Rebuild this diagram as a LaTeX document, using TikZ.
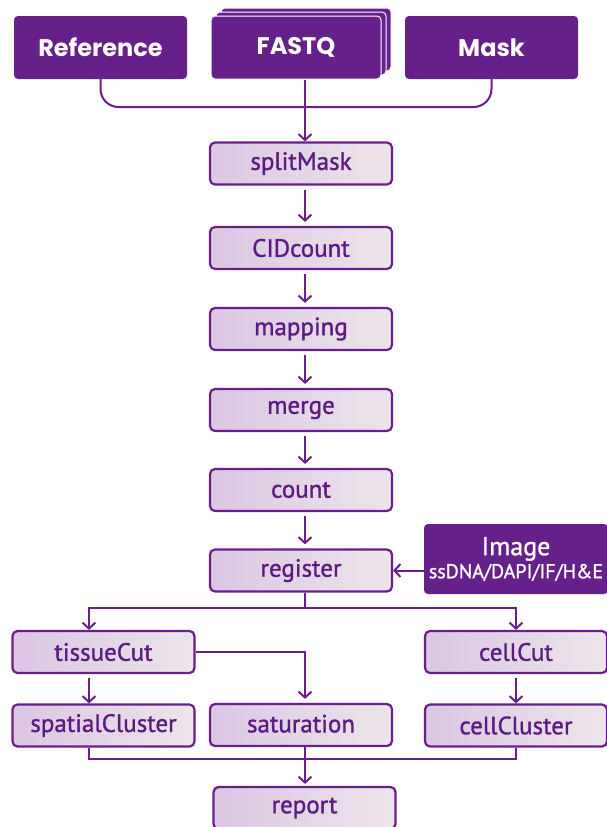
\documentclass[tikz,border=0pt]{standalone}
\usepackage{fontspec}
\setmainfont{PT Sans}
\newfontfamily\boxfont{PT Sans}[BoldFont={PT Sans}, BoldFeatures={FakeBold=1.2}]
\newfontfamily\headfont{Poppins}
\usetikzlibrary{arrows.meta, positioning, calc}
\definecolor{wfpurple}{HTML}{66208A}
\definecolor{wfline}{HTML}{6A1E8C}
\definecolor{wftext}{HTML}{5C1A82}
\definecolor{wfleft}{HTML}{DCC6E4}
\definecolor{wfright}{HTML}{ECE5E9}

\begin{document}
\begin{tikzpicture}[x=1pt, y=-1pt,
    procbox/.style={draw=wfline, line width=2.2pt, rounded corners=5pt, left color=wfleft, right color=wfright,
      minimum width=182pt, minimum height=42pt, inner sep=0pt, text=wftext, font=\boxfont\bfseries\fontsize{25}{28}\selectfont},
    inbox/.style={fill=wfpurple, rounded corners=4pt, minimum width=173pt, minimum height=63pt, inner sep=0pt,
      text=white, font=\headfont\bfseries\fontsize{24}{28}\selectfont},
    line/.style={draw=wfline, line width=2pt},
    arrow/.style={line, -{Straight Barb[length=6pt, width=13pt]}}
  ]
  \useasboundingbox (0,0) rectangle (606,827);

  % Inputs - FASTQ drawn as a stack of files
  \node[inbox] (reference) at (100.5,47.5) {Reference};
  \foreach \k in {2,1} {
    \node[inbox, draw=white, line width=1pt, minimum width=170pt] at ({296+5*\k},{47.5-4*\k}) {};
  }
  \node[inbox, draw=white, line width=1pt, minimum width=170pt] (fastq) at (296,47.5) {FASTQ};
  \node[inbox] (mask) at (491.5,47.5) {Mask};

  % Main column
  \node[procbox] (splitmask) at (301,163.5) {splitMask};
  \node[procbox] (cidcount) at (301,248) {CIDcount};
  \node[procbox] (mapping) at (301,329) {mapping};
  \node[procbox] (merge) at (301,410) {merge};
  \node[procbox] (count) at (301,490) {count};
  \node[procbox] (register) at (301,570.5) {register};

  % Image input
  \node[inbox, minimum width=184pt, minimum height=70pt, font=\boxfont\bfseries\fontsize{26}{28}\selectfont, align=center] (image) at (516,559)
    {Image\\[-5pt]{\fontsize{20}{22}\selectfont ssDNA/DAPI/IF/H\&E}};

  % Branches after register
  \node[procbox] (tissuecut) at (103.5,652) {tissueCut};
  \node[procbox] (cellcut) at (516,652) {cellCut};
  \node[procbox] (spatialcluster) at (103.5,725.5) {spatialCluster};
  \node[procbox] (saturation) at (301,725) {\raisebox{3pt}{saturation}\hspace{8pt}};
  \node[procbox] (cellcluster) at (516,725.5) {cellCluster};
  \node[procbox] (report) at (304.5,808) {report};

  % Helper points for the buses
  \coordinate (join) at (305,107);
  \coordinate (busL) at (89,608);
  \coordinate (busR) at (516,608);
  \coordinate (mergeM) at (305,759);

  % Arrows
  \draw[line, rounded corners=18pt] (reference.south) |- (join) -| (mask.south);
  \draw[arrow] ([xshift=9pt]fastq.south) -- ([xshift=4pt]splitmask.north);

  \foreach \a/\b in {splitmask/cidcount, cidcount/mapping, mapping/merge, merge/count, count/register} {
    \draw[arrow, shorten <=4pt, shorten >=4pt] ([xshift=4pt]\a.south) -- ([xshift=4pt]\b.north);
  }
  \draw[arrow] (register.east -| image.west) -- (register.east);

  \draw[arrow] ([xshift=4pt]register.south) |- (busL) -- (tissuecut.north -| busL);
  \draw[arrow] ([xshift=4pt]register.south) |- (busR) -- (cellcut.north -| busR);
  \draw[arrow, shorten <=4pt] (tissuecut.south -| busL) -- (spatialcluster.north -| busL);
  \draw[arrow, shorten <=4pt] (cellcut.south -| busR) -- (cellcluster.north -| busR);
  \draw[arrow, shorten >=4pt] (tissuecut.east) -| ([xshift=4pt]saturation.north);

  \draw[line] (spatialcluster.south -| busL) |- (mergeM) -| (cellcluster.south -| busR);
  \draw[arrow, shorten >=2pt] ([xshift=4pt]saturation.south) -- (report.north -| mergeM);
\end{tikzpicture}
\end{document}
